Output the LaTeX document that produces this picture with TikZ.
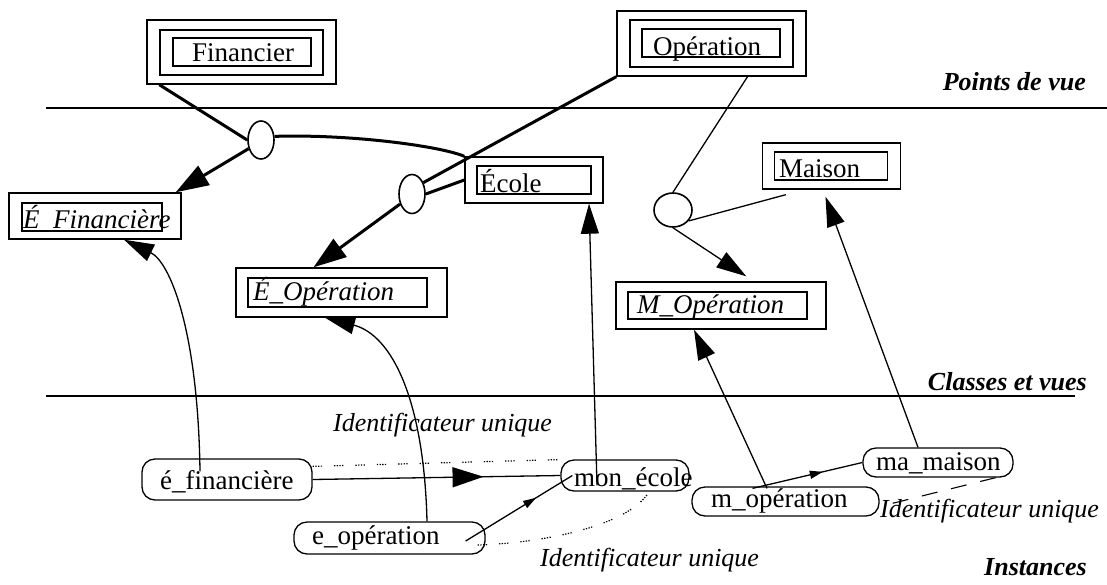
\documentclass[tikz,border=0pt]{standalone}
\usepackage{fontspec}
\setmainfont{Liberation Serif}
\usetikzlibrary{arrows.meta,shapes.geometric,decorations.markings}

\begin{document}
\begin{tikzpicture}[x=1pt,y=-1pt,
  txt/.style={font=\fontsize{27}{31}\selectfont, inner sep=0pt, anchor=base west},
  itxt/.style={font=\fontsize{27}{31}\selectfont\itshape, inner sep=0pt, anchor=base west},
  idtxt/.style={font=\fontsize{26}{30}\selectfont\itshape, inner sep=0pt, anchor=base west},
  sect/.style={font=\fontsize{26}{30}\selectfont\bfseries\itshape, inner sep=0pt, anchor=base east},
  frame/.style={draw, line width=1.4pt, inner sep=0pt, minimum width=#1},
  inst/.style={draw, line width=1.3pt, rounded corners=13pt, inner sep=0pt, minimum width=#1},
  oval/.style={draw, ellipse, line width=1.6pt, inner sep=0pt, fill=white},
  sepline/.style={line width=2.4pt},
  heavy/.style={line width=3pt},
  light/.style={line width=1.3pt},
  bighead/.style={-{Triangle[length=33pt,width=22pt]}},
  head/.style={-{Triangle[length=30pt,width=18pt]}},
  bigmid/.style={postaction={decorate}, decoration={markings,
      mark=at position #1 with {\arrow{Triangle[length=31pt,width=20pt]}}}},
  smallmid/.style={postaction={decorate}, decoration={markings,
      mark=at position #1 with {\arrow{Triangle[length=13pt,width=8pt]}}}},
  dots/.style={line width=1.2pt, dash pattern=on 1.3pt off 1.4pt on 1.3pt off 1.4pt on 1.3pt off 1.4pt on 1.3pt off 12pt},
  dashes/.style={line width=1.1pt, dash pattern=on 16pt off 14pt}
]
\fill[white] (0,0) rectangle (1107,584);
\useasboundingbox (0,0) rectangle (1107,584);

% layer separators
\draw[sepline] (46,108) -- (1107,108);
\draw[sepline] (46,396) -- (1075,396);

% layer titles
\node[sect] (tpv) at (1086,90) {Points de vue};
\node[sect] (tcv) at (1087,390) {Classes et vues};
\node[sect] (tin) at (1087,575) {Instances};

% points of view (triple frames)
\node[frame=189pt, minimum height=64pt] (fin) at (241.5,52) {};
\node[frame=163pt, minimum height=45pt] (fin2) at (241.5,52.5) {};
\node[frame=138pt, minimum height=28pt] (fin3) at (242,52) {};
\node[txt] (tfin) at (192,61) {Financier};

\node[frame=189pt, minimum height=65pt] (op) at (711.5,43.5) {};
\node[frame=163pt, minimum height=47pt] (op2) at (711.5,43.5) {};
\node[frame=138pt, minimum height=28pt] (op3) at (711,43) {};
\node[txt] (top) at (653,55) {Opération};

% classes (double frames)
\node[frame=138pt, minimum height=46pt] (ecole) at (534,180) {};
\node[frame=114pt, minimum height=28pt] (ecole2) at (534,180) {};
\node[txt] (tecole) at (480,192) {École};

\node[frame=138pt, minimum height=46pt] (maison) at (831.5,166) {};
\node[frame=113pt, minimum height=28pt] (maison2) at (831,166) {};
\node[txt] (tmaison) at (779,177) {Maison};

% views (double frames)
\node[frame=172pt, minimum height=46pt] (efin) at (95,216) {};
\node[frame=140pt, minimum height=28pt] (efin2) at (92,217) {};
\node[itxt] (tefin) at (23,228) {É\_Financière};

\node[frame=211pt, minimum height=49pt] (eop) at (341.5,292.5) {};
\node[frame=179pt, minimum height=29pt] (eop2) at (337.5,292.5) {};
\node[itxt] (teop) at (253,300) {É\_Opération};

\node[frame=210pt, minimum height=47pt] (mop) at (721,305.5) {};
\node[frame=179pt, minimum height=27pt] (mop2) at (717.5,305.5) {};
\node[itxt] (tmop) at (637,313) {M\_Opération};

% view junctions
\node[oval, minimum width=26pt, minimum height=38pt] (e1) at (261,140) {};
\node[oval, minimum width=26pt, minimum height=39pt] (e2) at (412,194) {};
\node[oval, minimum width=38pt, minimum height=34pt] (e3) at (673,210) {};

\draw[heavy] ([xshift=13pt]fin.south west) -- (e1.west);
\draw[heavy, bighead] (e1.215) -- ([xshift=-6pt]efin.north east);
\draw[heavy] (e1.15) .. controls (350,134) and (440,146) .. (ecole.north west);
\draw[heavy] (op.south west) -- (e2.45);
\draw[heavy] (e2.east) -- (ecole.west);
\draw[heavy, bighead] (e2.220) -- ([xshift=-28pt]eop.north);

\draw[light] ([xshift=36pt]op.south) -- (e3.north);
\draw[light] (e3.-35) -- ([xshift=24pt,yshift=-5pt]maison.south west);
\draw[light, head] (e3.south) -- ([xshift=131pt,yshift=5pt]mop.north west);

% instances
\node[inst=170pt, minimum height=41pt] (ifin) at (227,479.5) {};
\node[txt] (tifin) at (160,489) {é\_financière};
\node[inst=128pt, minimum height=31pt] (imon) at (625,475.5) {};
\node[txt] (timon) at (574,486) {mon\_école};
\node[inst=191pt, minimum height=32pt] (iop) at (389.5,538) {};
\node[txt] (tiop) at (312,544) {e\_opération};
\node[inst=150pt, minimum height=29pt] (imai) at (938,462.5) {};
\node[txt] (timai) at (876,470) {ma\_maison};
\node[inst=187pt, minimum height=29pt] (imop) at (785.5,501.5) {};
\node[txt] (timop) at (711,507) {m\_opération};

% instance-of links
\draw[light, head] ([xshift=-27pt,yshift=-13pt]ifin.north) .. controls (198,330) and (170,262) .. ([xshift=29pt]efin.south);
\draw[light, head] ([xshift=37.5pt]iop.north) .. controls (424,400) and (392,335) .. ([xshift=-16.5pt]eop.south);
\draw[light, head] ([xshift=-28pt,yshift=-26pt]imon.north) -- ([xshift=55pt]ecole.south);
\draw[light, head] ([xshift=-18.5pt,yshift=-2pt]imop.north) -- ([xshift=-27pt]mop.south);
\draw[light, head] ([xshift=-20pt]imai.north) -- ([xshift=-6pt,yshift=-7pt]maison.south);

% links between instances
\draw[light, bigmid=0.69] (ifin.east) -- (imon.west);
\draw[light, smallmid=0.66] ([xshift=-20pt,yshift=-3pt]iop.east) -- ([xshift=12pt]imon.west);
\draw[light, smallmid=0.64] ([xshift=-33pt,yshift=-2pt]imop.north) -- (imai.west);

% shared identity
\draw[dots] ([yshift=-8pt]ifin.north east) -- ([xshift=8pt]imon.north west);
\draw[dots] ([xshift=-8pt,yshift=-7pt]iop.east) .. controls (545,543) and (630,525) .. ([xshift=24pt]imon.south);
\draw[dashes] ([xshift=-18pt]imai.south east) -- ([xshift=4pt,yshift=-4pt]imop.east);

\node[idtxt] (id1) at (333,431) {Identificateur unique};
\node[idtxt] (id2) at (540,566) {Identificateur unique};
\node[idtxt] (id3) at (880,517) {Identificateur unique};
\end{tikzpicture}
\end{document}
